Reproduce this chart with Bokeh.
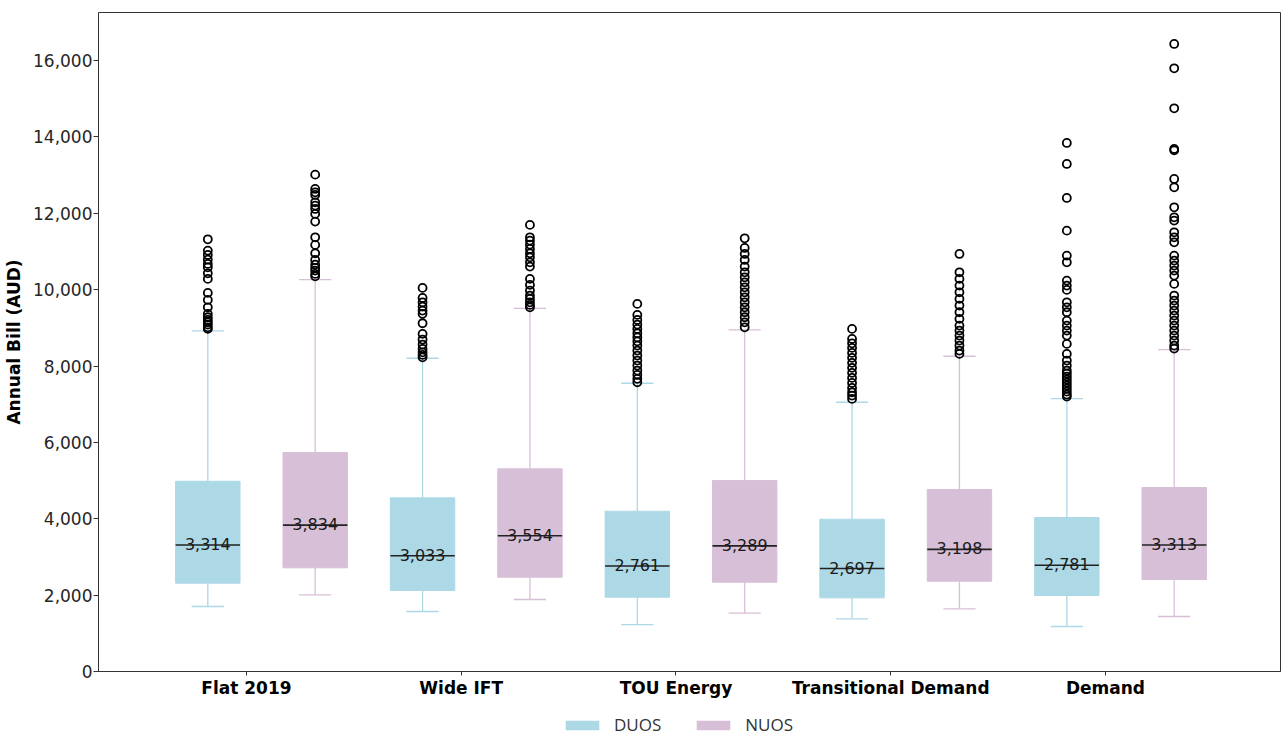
from bokeh.plotting import figure
from bokeh.layouts import column
from bokeh.models import (ColumnDataSource, Legend, LegendItem, NumeralTickFormatter,
                          FixedTicker, Range1d)
from bokeh.core.properties import value
from bokeh.embed import file_html
from bokeh.resources import INLINE

# ---------------- data ----------------
categories = ["Flat 2019", "Wide IFT", "TOU Energy", "Transitional Demand", "Demand"]
series_names = ["DUOS", "NUOS"]
y_ticks = [0, 2000, 4000, 6000, 8000, 10000, 12000, 14000, 16000]

duos_low = [1702, 1571, 1230, 1379, 1178]
duos_q1 = [2312, 2121, 1945, 1929, 1990]
duos_median = [3314, 3033, 2761, 2697, 2781]
duos_q3 = [4982, 4547, 4197, 3988, 4032]
duos_high = [8919, 8203, 7548, 7051, 7147]

nuos_low = [2008, 1885, 1527, 1641, 1440]
nuos_q1 = [2715, 2469, 2338, 2364, 2409]
nuos_median = [3834, 3554, 3289, 3198, 3313]
nuos_q3 = [5733, 5307, 5000, 4765, 4817]
nuos_high = [10263, 9511, 8945, 8255, 8430]

duos_out_flat = [11318, 11022, 10909, 10786, 10674, 10585, 10428, 10281, 9914, 9731,
                 9537, 9365, 9276, 9207, 9145, 9084, 9014, 8972]
duos_out_wide = [10045, 9783, 9668, 9556, 9451, 9365, 9119, 8841, 8692, 8561, 8448,
                 8359, 8291, 8228]
duos_out_tou = [9626, 9338, 9207, 9084, 8972, 8857, 8752, 8647, 8535, 8404, 8273, 8142,
                8011, 7880, 7768, 7663, 7574]
duos_out_trans = [8972, 8710, 8595, 8474, 8343, 8213, 8082, 7951, 7820, 7689, 7558,
                  7427, 7312, 7226, 7139]
duos_out_dem = [13841, 13291, 12401, 11545, 10891, 10716, 10236, 10105, 9993, 9668,
                9537, 9407, 9189, 9058, 8927, 8796, 8579, 8317, 8142, 8011, 7880, 7802,
                7723, 7645, 7566, 7488, 7409, 7331, 7252, 7200]

nuos_out_flat = [13011, 12637, 12548, 12480, 12287, 12200, 12113, 11983, 11781, 11370,
                 11171, 10951, 10778, 10655, 10569, 10498, 10412, 10349]
nuos_out_wide = [11695, 11370, 11284, 11179, 11066, 10951, 10846, 10716, 10603, 10281,
                 10124, 9975, 9844, 9757, 9668, 9600, 9537]
nuos_out_tou = [11344, 11092, 10935, 10778, 10603, 10454, 10323, 10192, 10061, 9930,
                9799, 9668, 9537, 9407, 9276, 9145, 9014]
nuos_out_trans = [10935, 10454, 10281, 10105, 9930, 9757, 9582, 9407, 9234, 9058, 8927,
                  8796, 8666, 8535, 8404, 8317]
nuos_out_dem = [16433, 15795, 14748, 13684, 13650, 12899, 12679, 12155, 11894, 11807,
                11501, 11370, 11239, 10891, 10760, 10629, 10498, 10367, 10150, 9844,
                9713, 9582, 9451, 9320, 9189, 9058, 8927, 8796, 8666, 8535, 8456]

duos_outliers = [duos_out_flat, duos_out_wide, duos_out_tou, duos_out_trans, duos_out_dem]
nuos_outliers = [nuos_out_flat, nuos_out_wide, nuos_out_tou, nuos_out_trans, nuos_out_dem]

# ---------------- layout / style ----------------
DUOS_COLOR = "#ADD8E6"
NUOS_COLOR = "#D8BFD8"
BOX_W = 0.30
CAP_W = 0.15
DUOS_SHIFT = -0.18
NUOS_SHIFT = 0.32
TEXT_COLOR = "#262626"

p = figure(width=1284, height=700, output_backend="svg", toolbar_location=None,
           x_range=Range1d(-0.689, 4.815), y_range=Range1d(0, 17257),
           min_border_left=98, min_border_right=4, min_border_top=12,
           min_border_bottom=29)
p.background_fill_color = "white"
p.border_fill_color = "white"
p.outline_line_color = "#333333"
p.outline_line_width = 1
p.xgrid.visible = False
p.ygrid.visible = False


def draw_series(shift, low, q1, med, q3, high, outliers, color):
    xs = [i + shift for i in range(len(categories))]
    src = ColumnDataSource(dict(
        x=xs, low=low, q1=q1, med=med, q3=q3, high=high,
        cl=[x - CAP_W / 2 for x in xs], cr=[x + CAP_W / 2 for x in xs],
        ml=[x - BOX_W / 2 for x in xs], mr=[x + BOX_W / 2 for x in xs],
        label=[f"{m:,}" for m in med],
    ))
    p.segment(x0="x", y0="q3", x1="x", y1="high", source=src, line_color=color, line_width=1.3)
    p.segment(x0="x", y0="q1", x1="x", y1="low", source=src, line_color=color, line_width=1.3)
    p.segment(x0="cl", y0="high", x1="cr", y1="high", source=src, line_color=color, line_width=1.3)
    p.segment(x0="cl", y0="low", x1="cr", y1="low", source=src, line_color=color, line_width=1.3)
    p.vbar(x="x", width=BOX_W, bottom="q1", top="q3", source=src,
           fill_color=color, line_color=color, line_width=1)
    p.segment(x0="ml", y0="med", x1="mr", y1="med", source=src,
              line_color="#222222", line_width=1.6)
    p.text(x="x", y="med", text="label", source=src, text_align="center",
           text_baseline="alphabetic", y_offset=-1,
           text_font=value("DejaVu Sans"), text_font_size="16px", text_color="#1a1a1a")
    ox, oy = [], []
    for i, vals in enumerate(outliers):
        for v in vals:
            ox.append(xs[i])
            oy.append(v)
    p.scatter(x=ox, y=oy, marker="circle", size=8, fill_color=None,
              line_color="black", line_width=1.8)


draw_series(DUOS_SHIFT, duos_low, duos_q1, duos_median, duos_q3, duos_high,
            duos_outliers, DUOS_COLOR)
draw_series(NUOS_SHIFT, nuos_low, nuos_q1, nuos_median, nuos_q3, nuos_high,
            nuos_outliers, NUOS_COLOR)

# axes
p.xaxis.ticker = FixedTicker(ticks=list(range(len(categories))))
p.xaxis.major_label_overrides = {i: c for i, c in enumerate(categories)}
p.xaxis.major_label_text_font = "DejaVu Sans"
p.xaxis.major_label_text_font_style = "bold"
p.xaxis.major_label_text_font_size = "17px"
p.xaxis.major_label_text_color = "black"
p.xaxis.major_label_standoff = 2
p.xaxis.major_tick_out = 4
p.xaxis.major_tick_in = 0
p.xaxis.minor_tick_line_color = None

p.yaxis.ticker = FixedTicker(ticks=y_ticks)
p.yaxis.formatter = NumeralTickFormatter(format="0,0")
p.yaxis.major_label_text_font = "DejaVu Sans"
p.yaxis.major_label_text_font_size = "17px"
p.yaxis.major_label_text_color = TEXT_COLOR
p.yaxis.major_label_standoff = 1
p.yaxis.major_tick_out = 5
p.yaxis.major_tick_in = 0
p.yaxis.minor_tick_line_color = None
p.yaxis.axis_label = "Annual Bill (AUD)"
p.yaxis.axis_label_text_font = "DejaVu Sans"
p.yaxis.axis_label_text_font_style = "bold"
p.yaxis.axis_label_text_font_size = "17px"
p.yaxis.axis_label_text_color = "black"
p.yaxis.axis_label_standoff = 6

for ax in (p.xaxis, p.yaxis):
    ax.axis_line_color = "#333333"
    ax.major_tick_line_color = "#333333"

# ---------------- legend strip ----------------
lf = figure(width=1284, height=36, output_backend="svg", toolbar_location=None,
            x_range=Range1d(0, 1), y_range=Range1d(0, 1),
            x_axis_location=None, y_axis_location=None,
            min_border_left=0, min_border_right=0, min_border_top=0, min_border_bottom=0)
lf.outline_line_color = None
lf.xgrid.visible = False
lf.ygrid.visible = False
lf.background_fill_color = "white"
lf.border_fill_color = "white"
# zero-height proxy bars: only their colours are used, by the legend
proxy = ColumnDataSource(dict(x=[0.5], b=[0.0], t=[0.0]))
r_duos = lf.vbar(x="x", bottom="b", top="t", width=0.1, source=proxy,
                 fill_color=DUOS_COLOR, line_color=None)
r_nuos = lf.vbar(x="x", bottom="b", top="t", width=0.1, source=proxy,
                 fill_color=NUOS_COLOR, line_color=None)
legend = Legend(items=[LegendItem(label=series_names[0], renderers=[r_duos]),
                       LegendItem(label=series_names[1], renderers=[r_nuos])],
                orientation="horizontal", location=(463, 0),
                glyph_width=42, glyph_height=12, label_standoff=11, spacing=31,
                padding=0, margin=0, border_line_alpha=0, background_fill_alpha=0,
                label_text_font="Open Sans", label_text_font_size="17px",
                label_text_color="#333333")
lf.add_layout(legend, "center")

open("out.html", "w").write(file_html(column(p, lf, spacing=0), INLINE))
